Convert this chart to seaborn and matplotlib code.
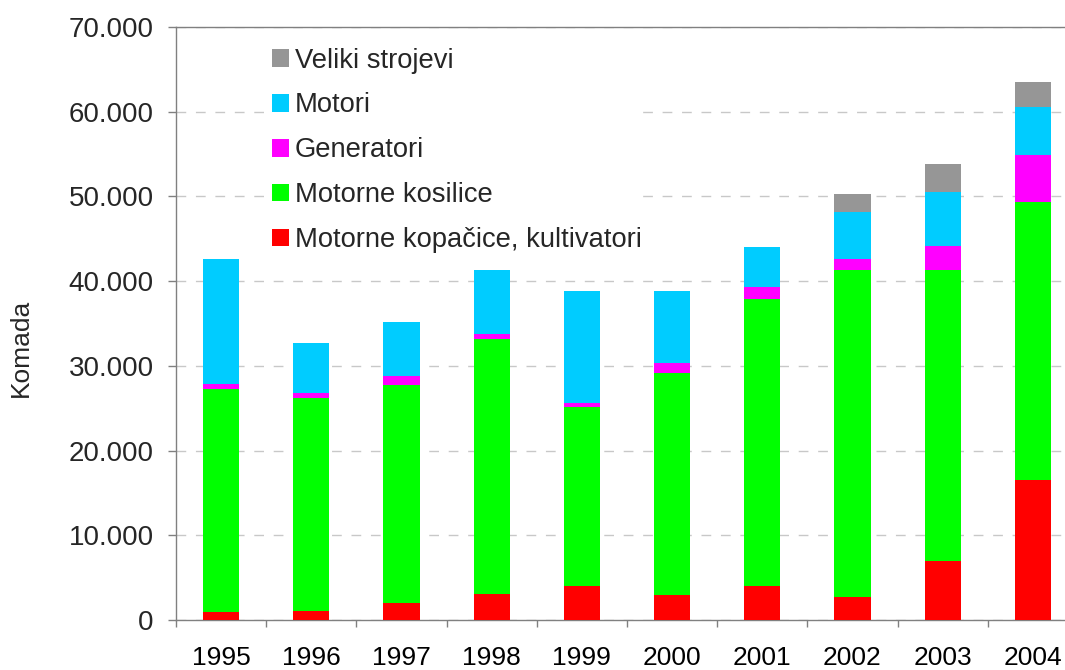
import numpy as np
import pandas as pd
import matplotlib
matplotlib.use("Agg")
import matplotlib.pyplot as plt
from matplotlib.patches import Patch
from matplotlib.ticker import FuncFormatter, FixedLocator
import seaborn as sns

years = ['1995', '1996', '1997', '1998', '1999', '2000', '2001', '2002', '2003', '2004']
kopacice = [900, 1100, 2000, 3100, 4050, 2900, 4050, 2750, 6950, 16500]
kosilice = [26400, 25050, 25760, 30080, 21080, 26310, 33880, 38610, 34410, 32830]
generatori = [500, 590, 1100, 550, 430, 1180, 1340, 1300, 2840, 5560]
motori = [14800, 5960, 6360, 7540, 13280, 8490, 4730, 5490, 6310, 5610]
veliki = [0, 0, 0, 0, 0, 0, 0, 2090, 3280, 3030]

series_names = ['Motorne kopačice, kultivatori', 'Motorne kosilice',
                'Generatori', 'Motori', 'Veliki strojevi']
series_colors = ['#ff0000', '#00ff00', '#ff00ff', '#00ccff', '#969696']

df = pd.DataFrame({'Godina': years,
                   series_names[0]: kopacice,
                   series_names[1]: kosilice,
                   series_names[2]: generatori,
                   series_names[3]: motori,
                   series_names[4]: veliki})

sns.set_theme(style="white")
plt.rcParams['font.family'] = ['Liberation Sans', 'DejaVu Sans']

fig = plt.figure(figsize=(10.65, 6.7), dpi=100)
ax = fig.add_axes([176 / 1065, 50 / 670, 902 / 1065, 593 / 670])

# stacked bars: draw cumulative totals from the top series down
cum = df[series_names].cumsum(axis=1)
for name, color in reversed(list(zip(series_names, series_colors))):
    sns.barplot(x=df['Godina'], y=cum[name], color=color, saturation=1,
                width=0.4, linewidth=0, ax=ax, zorder=3)

ax.set_xlim(-0.5, 9.5)
ax.set_ylim(0, 70000)
ax.set_yticks(np.arange(0, 70001, 10000))
ax.yaxis.set_major_formatter(FuncFormatter(
    lambda v, p: f"{int(v):,}".replace(',', '.')))
ax.yaxis.grid(True, linestyle=(0, (7, 7)), color='#c8c8c8', lw=1, zorder=0)
ax.xaxis.grid(False)

ax.xaxis.set_minor_locator(FixedLocator(np.arange(-0.5, 10, 1)))
ax.tick_params(axis='x', which='major', length=0, pad=19, labelsize=19,
               colors='black')
ax.tick_params(axis='x', which='minor', length=5, width=1, color='#808080',
               direction='out', bottom=True)
ax.tick_params(axis='y', length=6, width=1, color='#808080', direction='out',
               left=True, labelsize=20, pad=10)

ax.set_xlabel('')
ax.set_ylabel('Komada', fontsize=19)
ax.yaxis.set_label_coords(-0.1585, 0.459)

for side in ['left', 'bottom', 'top']:
    ax.spines[side].set_color('#808080')
    ax.spines[side].set_linewidth(1)
ax.spines['right'].set_visible(False)

handles = [Patch(facecolor=c, edgecolor='none', label=n)
           for n, c in zip(series_names, series_colors)][::-1]
leg = ax.legend(handles=handles, loc='upper left',
                bbox_to_anchor=(0.1064, 0.9654), fontsize=19.7, frameon=True,
                facecolor='white', edgecolor='none', framealpha=1,
                handlelength=0.62, handleheight=0.62, handletextpad=0.22,
                labelspacing=0.69, borderpad=0.0, borderaxespad=0)
leg.set_zorder(5)

fig.savefig('out.png', dpi=100)
